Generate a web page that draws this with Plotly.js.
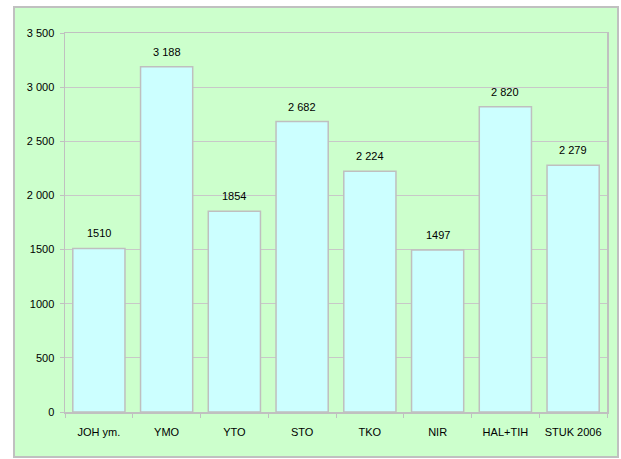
<!DOCTYPE html>
<html><head><meta charset="utf-8">
<script src="https://cdn.plot.ly/plotly-3.0.1.min.js"></script>
<style>
html,body{margin:0;padding:0;background:#fff;width:621px;height:459px;overflow:hidden;}
#frame{position:absolute;left:13px;top:6px;width:606px;height:452px;box-sizing:border-box;border:2px solid #C0C0C0;background:#CCFFCC;}
#chart{width:602px;height:448px;}
</style></head><body>
<div id="frame"><div id="chart"></div></div>
<script>
const categories = ["JOH ym.", "YMO", "YTO", "STO", "TKO", "NIR", "HAL+TIH", "STUK 2006"];
const values = [1510, 3188, 1854, 2682, 2224, 1497, 2820, 2279];
const valueLabels = ["1510", "3 188", "1854", "2 682", "2 224", "1497", "2 820", "2 279"];
const yTickVals = [0, 500, 1000, 1500, 2000, 2500, 3000, 3500];
const yTickText = ["0", "500", "1000", "1500", "2 000", "2 500", "3 000", "3 500"];

const font = {family: "Liberation Sans, Arial, sans-serif", size: 11, color: "#000"};

const trace = {
  type: "bar",
  x: categories,
  y: values,
  marker: {color: "#CCFFFF", line: {color: "#BFBFBF", width: 1.5}},
  hoverinfo: "none"
};

const annotations = categories.map((c, i) => ({
  x: c, y: values[i], text: valueLabels[i], showarrow: false,
  yanchor: "bottom", yshift: 7, font: font
}));

const layout = {
  width: 602, height: 448,
  margin: {l: 50, r: 10, t: 25, b: 44},
  paper_bgcolor: "#CCFFCC",
  plot_bgcolor: "#CCFFCC",
  font: font,
  showlegend: false,
  bargap: 0.23,
  xaxis: {
    type: "category",
    showgrid: false,
    showline: true, mirror: true, linecolor: "#C0C0C0", linewidth: 1.5,
    ticks: "outside", tickson: "boundaries", ticklen: 4, tickcolor: "#C0C0C0",
    ticklabelstandoff: 9,
    tickfont: font, fixedrange: true
  },
  yaxis: {
    range: [0, 3500],
    tickvals: yTickVals, ticktext: yTickText,
    showgrid: true, gridcolor: "#C8C8C8", gridwidth: 1,
    showline: true, mirror: true, linecolor: "#C0C0C0", linewidth: 1.5,
    ticks: "outside", ticklen: 4, tickcolor: "#C0C0C0",
    ticklabelstandoff: 3,
    zeroline: false, tickfont: font, fixedrange: true
  },
  annotations: annotations
};

Plotly.newPlot("chart", [trace], layout, {displayModeBar: false, staticPlot: true});
</script>
</body></html>
